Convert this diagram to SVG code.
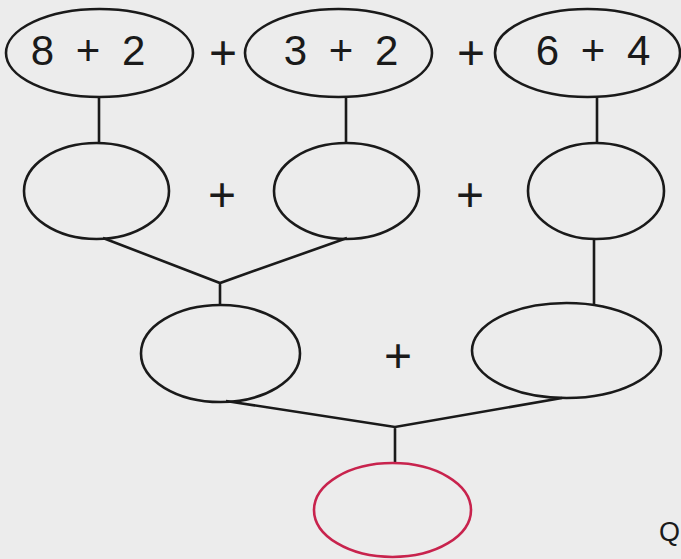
<svg xmlns="http://www.w3.org/2000/svg" width="681" height="559" viewBox="0 0 681 559">
<style>
.n{fill:none;stroke:#1a1a1a;stroke-width:2.6}
.r{fill:none;stroke:#c8234d;stroke-width:2.6}
.c{fill:none;stroke:#1a1a1a;stroke-width:2.6}
.t{font-family:"Liberation Sans",Arial,sans-serif;font-size:42px;fill:#1a1a1a;text-anchor:middle;word-spacing:10px}
.p{font-family:"Liberation Sans",Arial,sans-serif;font-size:48px;fill:#1a1a1a;text-anchor:middle}
</style>
<rect width="681" height="559" fill="#ececec"/>
<g id="connectors">
<path class="c" d="M99 97V143M346 97V143M597 97V143"/>
<path class="c" d="M103 238L220 283L347 238M220 283V305"/>
<path class="c" d="M594 239V304"/>
<path class="c" d="M226 401L395 427L562 398M395 427V463"/>
</g>
<g id="n1"><ellipse class="n" cx="99.5" cy="53" rx="93.5" ry="44"/><text class="t" x="88" y="65" xml:space="preserve">8 + 2</text></g>
<g id="n2"><ellipse class="n" cx="338.5" cy="53" rx="93.5" ry="44"/><text class="t" x="341" y="65" xml:space="preserve">3 + 2</text></g>
<g id="n3"><ellipse class="n" cx="587.5" cy="53" rx="92.5" ry="44"/><text class="t" x="593" y="65" xml:space="preserve">6 + 4</text></g>
<g id="n4"><ellipse class="n" cx="96.5" cy="191" rx="72.5" ry="48"/></g>
<g id="n5"><ellipse class="n" cx="346.5" cy="191" rx="72.5" ry="48"/></g>
<g id="n6"><ellipse class="n" cx="596" cy="191" rx="68" ry="48"/></g>
<g id="n7"><ellipse class="n" cx="220.5" cy="353.5" rx="79.5" ry="48.5"/></g>
<g id="n8"><ellipse class="n" cx="566.5" cy="350.5" rx="94.5" ry="47.5"/></g>
<g id="n9"><ellipse class="r" cx="392.5" cy="510" rx="78.5" ry="47"/></g>
<g id="ops">
<text class="p" x="223" y="69">+</text>
<text class="p" x="471" y="69">+</text>
<text class="p" x="222" y="211">+</text>
<text class="p" x="470" y="211">+</text>
<text class="p" x="398" y="372">+</text>
</g>
<text x="659" y="541" font-family="'Liberation Sans',Arial,sans-serif" font-size="27" fill="#1a1a1a">Q</text>
</svg>
